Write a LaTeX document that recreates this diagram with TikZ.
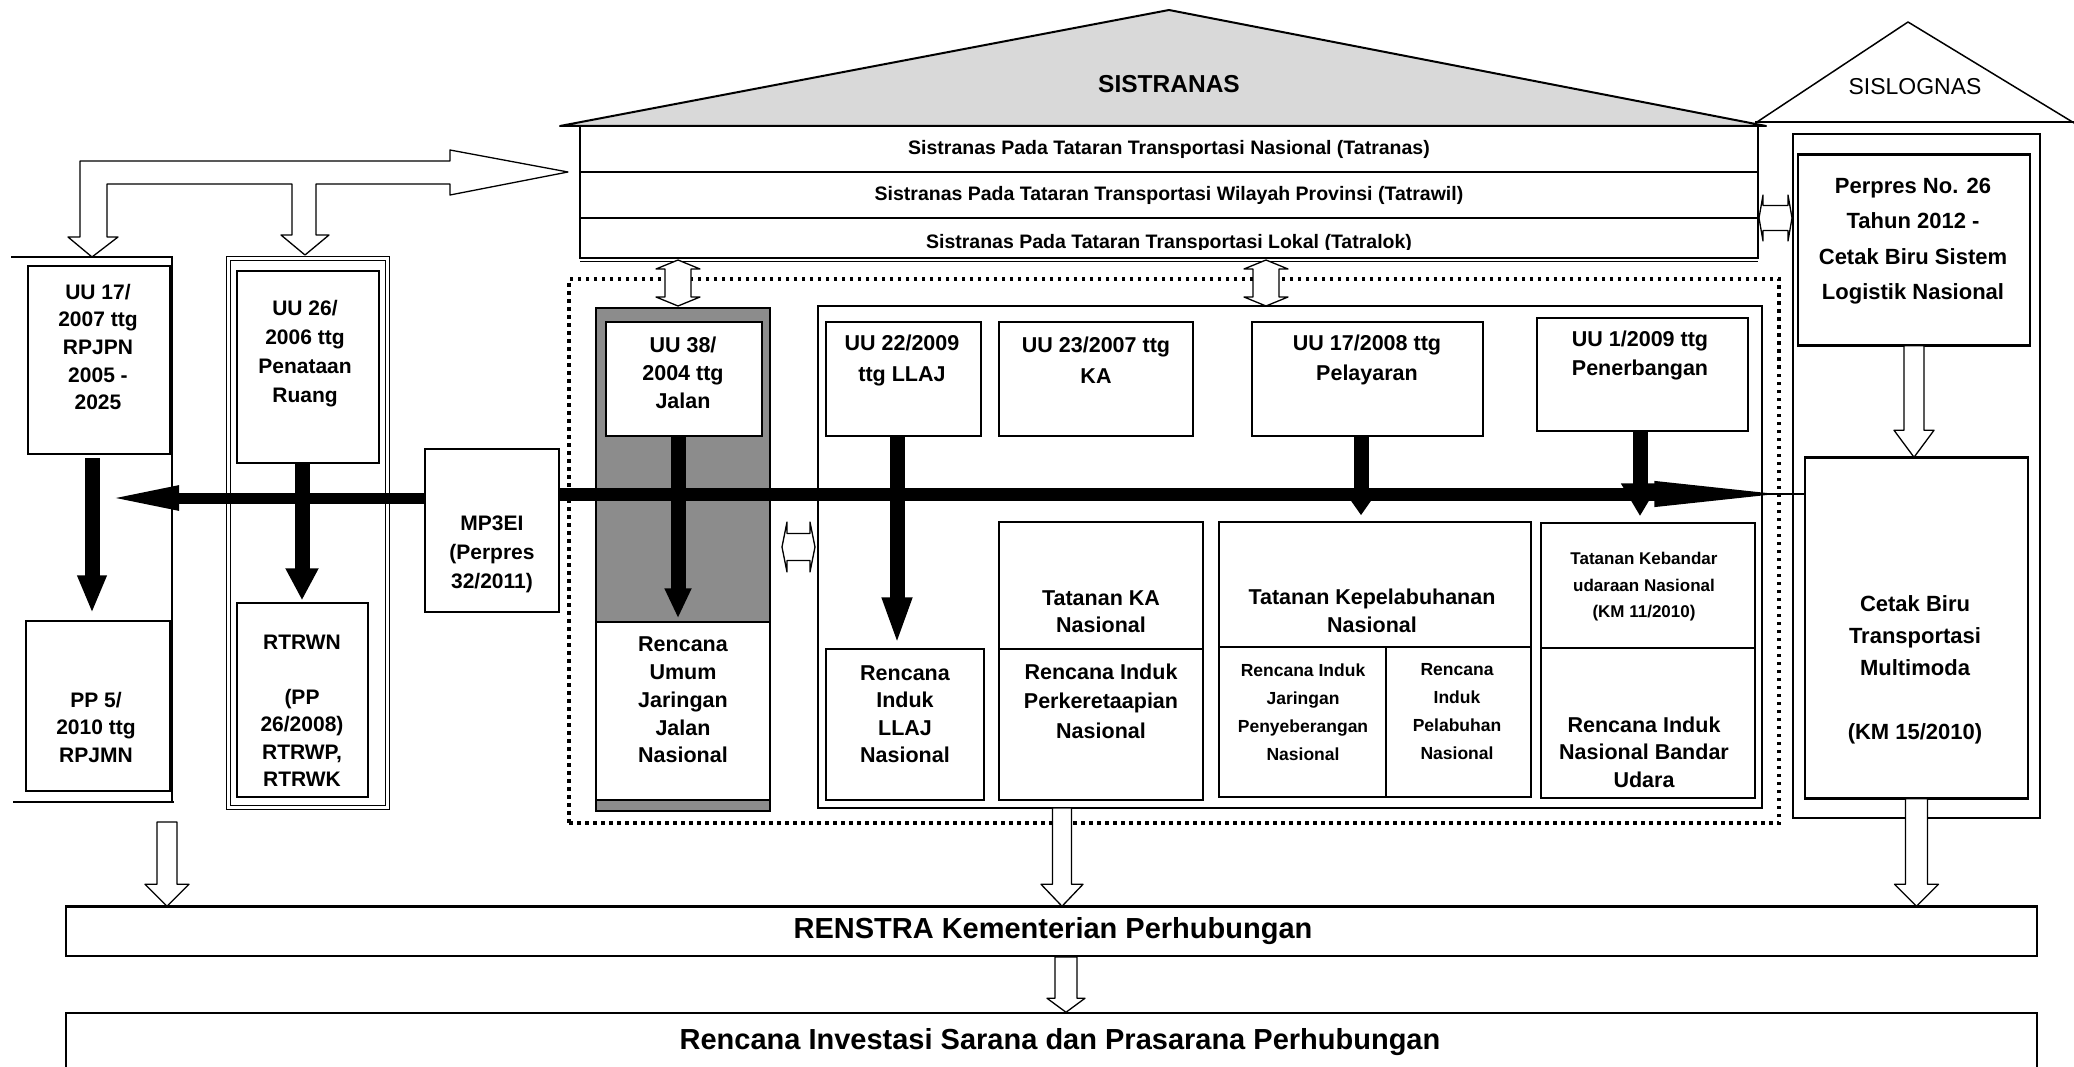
\documentclass[tikz,border=0pt]{standalone}
\usepackage{fontspec}
\setmainfont{Liberation Sans}
\usetikzlibrary{arrows.meta,calc}
\newcommand\FS[2]{\fontsize{#1}{#2}\selectfont}
\newcommand\BX[6][]{\node[box,#1,minimum width={(#4)-(#2)},minimum height={(#5)-(#3)}] (#6) at ({((#2)+(#4))/2},{((#3)+(#5))/2}) {};}
\newcommand\HDown[5]{\draw[hol] let \p1=(#1), \p2=(#2) in (\x1-#3pt,\y1) -- (\x1-#3pt,\y2+#5pt) -- (\x1-#4pt,\y2+#5pt) -- (\x1,\y2) -- (\x1+#4pt,\y2+#5pt) -- (\x1+#3pt,\y2+#5pt) -- (\x1+#3pt,\y1) -- cycle;}
\newcommand\VDouble[5]{\draw[hol] let \p1=(#1), \p2=(#2) in (\x1,\y1) -- (\x1+#4pt,\y1-#5pt) -- (\x1+#3pt,\y1-#5pt) -- (\x1+#3pt,\y2+#5pt) -- (\x1+#4pt,\y2+#5pt) -- (\x1,\y2) -- (\x1-#4pt,\y2+#5pt) -- (\x1-#3pt,\y2+#5pt) -- (\x1-#3pt,\y1-#5pt) -- (\x1-#4pt,\y1-#5pt) -- cycle;}
\newcommand\HDouble[5]{\draw[hol] let \p1=(#1), \p2=(#2) in (\x1,\y1) -- (\x1+#5pt,\y1+#4pt) -- (\x1+#5pt,\y1+#3pt) -- (\x2-#5pt,\y1+#3pt) -- (\x2-#5pt,\y1+#4pt) -- (\x2,\y1) -- (\x2-#5pt,\y1-#4pt) -- (\x2-#5pt,\y1-#3pt) -- (\x1+#5pt,\y1-#3pt) -- (\x1+#5pt,\y1-#4pt) -- cycle;}
\begin{document}
\begin{tikzpicture}[x=1pt,y=-1pt,
  box/.style={draw, line width=1.5pt, fill=white, inner sep=0pt, rectangle},
  frm/.style={line width=1.8pt},
  hol/.style={draw, fill=white, line width=1.3pt, line join=round},
  txt/.style={align=center, inner sep=0pt, font=\bfseries\FS{21.5}{28}},
  blk/.style={line width=15pt},
  dotfr/.style={line width=3.5pt, dash pattern=on 3.5pt off 4.5pt, fill=white}
]
\useasboundingbox (0,0) rectangle (2074,1067);
\clip (0,0) rectangle (2074,1067);
\fill[white] (0,0) rectangle (2074,1067);

% ---------- branching hollow arrow (top left)
\draw[hol] (80,237) -- (68,237) -- (92,257) -- (118,237) -- (107,237) -- (107,184) -- (292,184) -- (292,235) -- (281,235) -- (305,255) -- (329,235) -- (316,235) -- (316,184) -- (450,184) -- (450,195) -- (568,172) -- (450,150) -- (450,161) -- (80,161) -- cycle;

% ---------- column 1
\draw[frm] (11,257) -- (172,257) -- (172,803);
\draw[frm] (13,802) -- (174,802);
\BX{28}{266}{170}{454}{uu17}
\BX{26}{621}{170}{791}{pp5}
\node[txt,font=\bfseries\FS{21}{27.7}] (t-uu17) at (98,347) {UU 17/\\2007 ttg\\RPJPN\\2005 -\\2025};
\node[txt,font=\bfseries\FS{21}{27.5}] (t-pp5) at (96,727) {PP 5/\\2010 ttg\\RPJMN};

% ---------- column 2
\BX[line width=1pt]{226}{257}{389}{809}{col2}
\draw[line width=1pt] (230,261) rectangle (385,805);
\BX{237}{271}{379}{463}{uu26}
\BX{237}{603}{368}{797}{rtrwn}
\node[txt,font=\bfseries\FS{21}{29}] (t-uu26) at (305,354) {UU 26/\\2006 ttg\\Penataan\\Ruang};
\node[txt,font=\bfseries\FS{21}{27.4}] (t-rtrwn) at (302,711) {RTRWN\\~\\(PP\\26/2008)\\RTRWP,\\RTRWK};

% ---------- MP3EI
\BX{425}{449}{559}{612}{mp}
\node[txt,font=\bfseries\FS{21}{29}] (t-mp) at (492,554) {MP3EI\\(Perpres\\32/2011)};

% ---------- SISTRANAS
\filldraw[fill=black!15, line width=2pt, line join=round] (560,126) -- (1169,10) -- (1766,126) -- cycle;
\node[txt,font=\bfseries\FS{24.5}{24.5}] (t-sis) at (1169,84) {SISTRANAS};
\BX[line width=1.8pt]{580}{126}{1758}{172}{row1}
\BX[line width=1.8pt]{580}{172}{1758}{218}{row2}
\BX[line width=1.8pt]{580}{218}{1758}{258}{row3}
\draw[line width=1.2pt] (580,261.5) -- (1758,261.5);
\node[txt,font=\bfseries\FS{19.5}{19.5}] (t-row1) at (row1.center) {Sistranas Pada Tataran Transportasi Nasional (Tatranas)};
\node[txt,font=\bfseries\FS{19.5}{19.5}] (t-row2) at (row2.center) {Sistranas Pada Tataran Transportasi Wilayah Provinsi (Tatrawil)};
\begin{scope}
\clip (582,219) rectangle (1756,249.5);
\node[txt,font=\bfseries\FS{19.5}{19.5}] (t-row3) at (1169,243) {Sistranas Pada Tataran Transportasi Lokal (Tatralok)};
\end{scope}

% ---------- dotted frame and contents
\BX[dotfr]{569}{279}{1779}{823}{dots}
\BX[fill=black!45]{596}{308}{770}{811}{grey}
\BX{606}{322}{762}{436}{uu38}
\BX{596}{622}{770}{800}{ruj}
\node[txt,font=\bfseries\FS{21.5}{28}] (t-uu38) at (683,373) {UU 38/\\2004 ttg\\Jalan};
\node[txt,font=\bfseries\FS{21.5}{27.8}] (t-ruj) at (683,700) {Rencana\\Umum\\Jaringan\\Jalan\\Nasional};

\BX[line width=1.8pt]{818}{306}{1762}{808}{rfr}
\BX{826}{322}{981}{436}{uu22}
\BX{999}{322}{1193}{436}{uu23}
\BX{1252}{322}{1483}{436}{uu17b}
\BX{1537}{318}{1748}{431}{uu1}
\node[txt,font=\bfseries\FS{21.5}{31}] (t-uu22) at (902,360) {UU 22/2009\\ttg LLAJ};
\node[txt,font=\bfseries\FS{21.5}{31}] (t-uu23) at (1096,360) {UU 23/2007 ttg\\KA};
\node[txt,font=\bfseries\FS{21.5}{30}] (t-uu17b) at (1367,360) {UU 17/2008 ttg\\Pelayaran};
\node[txt,font=\bfseries\FS{21.5}{29}] (t-uu1) at (1640,355) {UU 1/2009 ttg\\Penerbangan};

\BX{826}{649}{984}{800}{ril}
\BX{999}{522}{1203}{649}{tka}
\BX{999}{649}{1203}{800}{rika}
\BX{1219}{522}{1531}{647}{tkp}
\BX{1219}{647}{1386}{797}{rijp}
\BX{1386}{647}{1531}{797}{ripn}
\BX{1541}{523}{1755}{648}{tkb}
\BX{1541}{648}{1755}{798}{rinbu}
\node[txt,font=\bfseries\FS{21.5}{27.5}] (t-ril) at (905,714) {Rencana\\Induk\\LLAJ\\Nasional};
\node[txt,font=\bfseries\FS{21.5}{27}] (t-tka) at (1101,612) {Tatanan KA\\Nasional};
\node[txt,font=\bfseries\FS{21.5}{29.5}] (t-rika) at (1101,701) {Rencana Induk\\Perkeretaapian\\Nasional};
\node[txt,font=\bfseries\FS{21.5}{28}] (t-tkp) at (1372,611) {Tatanan Kepelabuhanan\\Nasional};
\node[txt,font=\bfseries\FS{17.5}{28}] (t-rijp) at (1303,712) {Rencana Induk\\Jaringan\\Penyeberangan\\Nasional};
\node[txt,font=\bfseries\FS{17.5}{28}] (t-ripn) at (1457,712) {Rencana\\Induk\\Pelabuhan\\Nasional};
\node[txt,font=\bfseries\FS{17}{26.5}] (t-tkb) at (1644,587) {Tatanan Kebandar\\udaraan Nasional\\(KM 11/2010)};
\node[txt,font=\bfseries\FS{21.5}{27.5}] (t-rinbu) at (1644,752) {Rencana Induk\\Nasional Bandar\\Udara};

% ---------- SISLOGNAS
\draw[line width=1.5pt, line join=round] (1757,122) -- (1908,22) -- (2084,129);
\draw[line width=1.8pt] (1755,122) -- (2074,122);
\node[txt,font=\FS{23}{23}] (t-sl) at (1915,87) {SISLOGNAS};
\BX[line width=1.2pt]{1793}{134}{2040}{818}{slfr}
\BX{1798}{155}{2030}{345}{perpres}
\BX{1805}{458}{2028}{798}{cetak}
\draw[line width=3pt] (perpres.north west) -- (perpres.north east);
\draw[line width=3pt] (perpres.south west) -- (perpres.south east);
\draw[line width=3pt] (cetak.north west) -- (cetak.north east);
\draw[line width=3pt] (cetak.south west) -- (cetak.south east);
\node[txt,font=\bfseries\FS{22}{35.5}] (t-perpres) at (1913,241) {Perpres No. 26\\Tahun 2012 -\\Cetak Biru Sistem\\Logistik Nasional};
\node[txt,font=\bfseries\FS{22}{32}] (t-cetak) at (1915,670) {Cetak Biru\\Transportasi\\Multimoda\\~\\(KM 15/2010)};
\HDown{perpres.south}{cetak.north}{10}{20}{27}

% ---------- bottom boxes
\BX{66}{907}{2037}{956}{renstra}
\draw[line width=3pt] (renstra.north west) -- (renstra.north east);
\BX{66}{1013}{2037}{1100}{inv}
\node[txt,font=\bfseries\FS{29}{29}] (t-renstra) at (1053,931) {RENSTRA Kementerian Perhubungan};
\node[txt,font=\bfseries\FS{29}{29}] (t-inv) at (1060,1042) {Rencana Investasi Sarana dan Prasarana Perhubungan};

% ---------- hollow arrows
\coordinate (l1) at (167,822);
\coordinate (m1) at (1062,808);
\coordinate (m2) at (1066,957);
\HDown{l1}{renstra.north}{10}{22}{22}
\HDown{m1}{renstra.north}{9.5}{21}{22}
\HDown{cetak.south}{renstra.north}{11}{22}{22}
\HDown{m2}{inv.north}{11}{19}{14}
\VDouble{678,260}{678,306}{13}{22}{9}
\VDouble{1266,260}{1266,306}{13}{22}{9}
\HDouble{782,547}{815,547}{13.5}{25}{5}
\HDouble{1759,218}{1792,218}{12.5}{23}{4}

% ---------- black arrows
\coordinate (a1) at (92,458);
\coordinate (sp) at (0,494);
\coordinate (lt) at (107,498);
\draw[line width=11pt, -{Triangle[length=72pt,width=22pt]}] (mp.west |- lt) -- (lt);
\draw[line width=2pt] (1700,494) -- (cetak.west |- sp);
\draw[line width=13pt, -{Triangle[length=150pt,width=22pt]}] (mp.east |- sp) -- (cetak.west |- sp);
\draw[blk, -{Triangle[length=38pt,width=27pt]}, shorten >=7pt] (a1) -- (a1 |- pp5.north);
\draw[blk, -{Triangle[length=32pt,width=31pt]}, shorten >=2pt] (uu26.south -| 302,0) -- (302,0 |- rtrwn.north);
\draw[blk, -{Triangle[length=30pt,width=25pt]}, shorten >=3pt] (uu38.south -| 678,0) -- (678,0 |- ruj.north);
\draw[blk, -{Triangle[length=48pt,width=27pt]}, shorten >=3pt] (uu22.south -| 897,0) -- (897,0 |- ril.north);
\draw[blk, -{Triangle[length=22pt,width=29pt]}, shorten >=6pt] (uu17b.south -| 1361,0) -- (1361,0 |- tkp.north);
\draw[blk, -{Triangle[length=33pt,width=36pt]}, shorten >=6pt] (uu1.south -| 1640,0) -- (1640,0 |- tkb.north);
\end{tikzpicture}
\end{document}
